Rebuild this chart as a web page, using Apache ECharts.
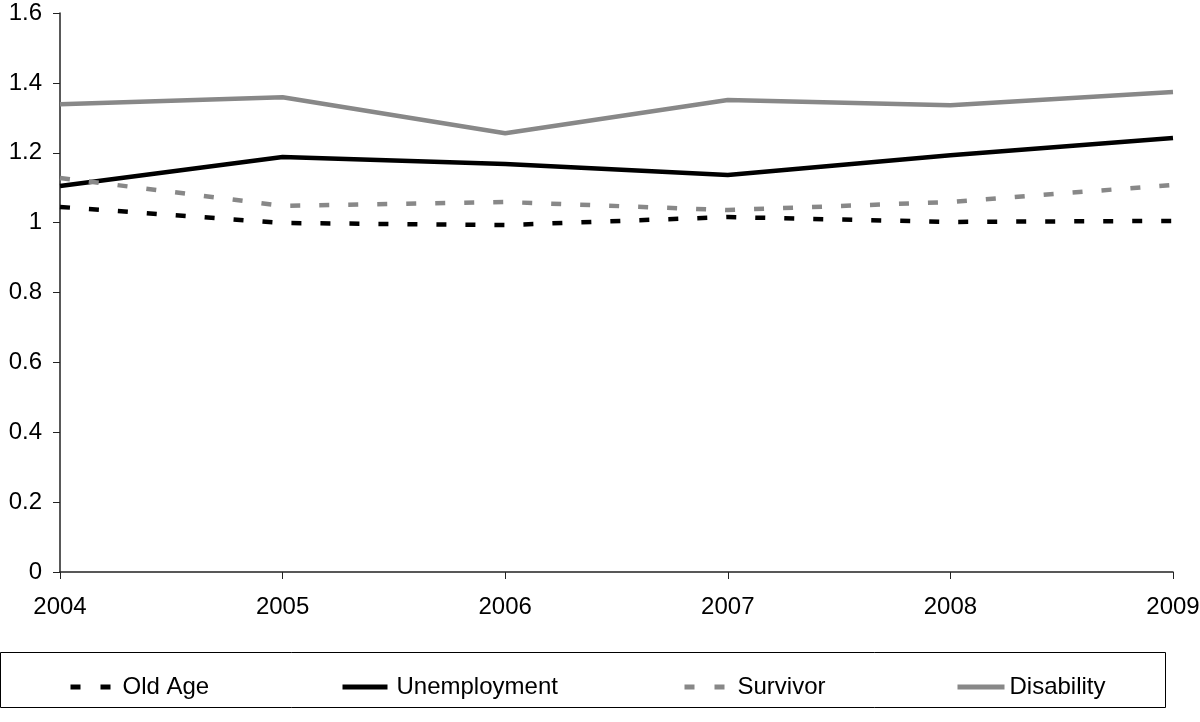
<!DOCTYPE html>
<html>
<head>
<meta charset="utf-8">
<script src="https://cdn.jsdelivr.net/npm/echarts@6/dist/echarts.min.js"></script>
<style>html,body{margin:0;padding:0;background:#fff;}#c{width:1200px;height:722px;}</style>
</head>
<body>
<div id="c"></div>
<script>
const years = ['2004','2005','2006','2007','2008','2009'];
const oldAge = [1.045, 0.999, 0.993, 1.016, 1.002, 1.005];
const unemployment = [1.105, 1.188, 1.168, 1.136, 1.193, 1.242];
const survivor = [1.128, 1.048, 1.059, 1.036, 1.059, 1.108];
const disability = [1.339, 1.359, 1.256, 1.351, 1.336, 1.374];

const font = 'Liberation Sans, Arial, sans-serif';
const chart = echarts.init(document.getElementById('c'));
const mkLegend = (name, left, w, pad, dash) => ({
  data: [name], left: left, top: 675, padding: 0, itemWidth: w, itemHeight: 14,
  itemStyle: {opacity: 0},
  lineStyle: dash ? {width: 5, type: [10, 20]} : {width: 5},
  textStyle: {fontFamily: font, fontSize: 24, color: '#000', padding: [0, 0, 0, pad]}
});
chart.setOption({
  animation: false,
  grid: {left: 60, right: 27, top: 13, bottom: 150, containLabel: false, outerBoundsMode: 'none'},
  legend: [mkLegend('Old Age', 68, 40, 7, true), mkLegend('Unemployment', 340, 45, 4, false),
           mkLegend('Survivor', 682, 40, 8, true), mkLegend('Disability', 955, 47, 0, false)],
  graphic: [{type: 'rect', shape: {x: 0.5, y: 652.5, width: 1165, height: 55}, style: {fill: 'none', stroke: '#000', lineWidth: 1}}],
  xAxis: {
    type: 'category', data: years, boundaryGap: false,
    axisLine: {lineStyle: {color: '#222', width: 1.5}},
    axisTick: {show: true, length: 7, lineStyle: {color: '#222'}},
    axisLabel: {fontFamily: font, fontSize: 24, color: '#000', margin: 23}
  },
  yAxis: {
    type: 'value', min: 0, max: 1.6, interval: 0.2,
    axisLine: {show: true, lineStyle: {color: '#222', width: 1.5}},
    axisTick: {show: true, length: 7, lineStyle: {color: '#222'}},
    splitLine: {show: false},
    axisLabel: {fontFamily: font, fontSize: 24, color: '#000', margin: 18,
      formatter: v => String(Math.round(v * 10) / 10)}
  },
  series: [
    {name: 'Old Age', type: 'line', data: oldAge, symbol: 'none', color: '#000',
      lineStyle: {color: '#000', width: 4.5, type: [10, 19]}},
    {name: 'Unemployment', type: 'line', data: unemployment, symbol: 'none', color: '#000',
      lineStyle: {color: '#000', width: 4.5}},
    {name: 'Survivor', type: 'line', data: survivor, symbol: 'none', color: '#888',
      lineStyle: {color: '#888', width: 4.5, type: [10, 19]}},
    {name: 'Disability', type: 'line', data: disability, symbol: 'none', color: '#888',
      lineStyle: {color: '#888', width: 4.5}}
  ]
});
</script>
</body>
</html>
